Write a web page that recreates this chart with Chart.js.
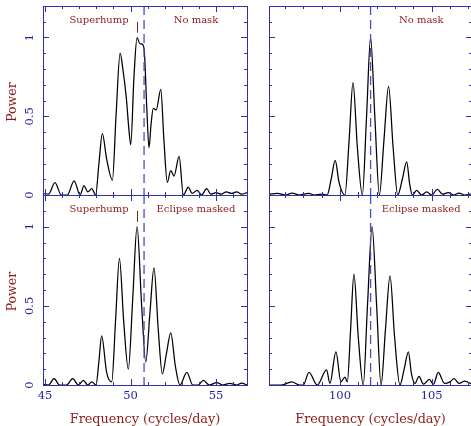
<!DOCTYPE html>
<html>
<head>
<meta charset="utf-8">
<script src="https://cdn.jsdelivr.net/npm/chart.js@4.4.1/dist/chart.umd.min.js"></script>
<style>
  html, body { margin: 0; padding: 0; background: #fff; }
  #wrap { position: relative; width: 471px; height: 426px; overflow: hidden; }
  #wrap canvas { position: absolute; left: 0; top: 0; }
</style>
</head>
<body>
<div id="wrap">
  <canvas id="tl" width="480" height="426"></canvas>
  <canvas id="tr" width="480" height="426"></canvas>
  <canvas id="bl" width="480" height="426"></canvas>
  <canvas id="br" width="480" height="426"></canvas>
</div>
<script>
// Periodogram values, frequency in cycles/day
const fundNoMaskFreq = [44.88,45.2,45.58,45.95,46.3,46.7,47.05,47.28,47.5,47.73,47.96,48.15,48.35,48.6,48.94,49.15,49.39,49.55,49.75,49.9,50.01,50.2,50.38,50.55,50.65,50.79,50.95,51.08,51.2,51.33,51.5,51.77,51.95,52.15,52.35,52.54,52.84,53.09,53.38,53.6,53.9,54.15,54.45,54.7,55.0,55.3,55.6,55.9,56.2,56.5,56.81];
const fundNoMaskPow  = [0.01,0.005,0.078,0.0,0.0,0.09,0.0,0.06,0.02,0.04,0.0,0.2,0.39,0.23,0.095,0.5,0.9,0.8,0.62,0.42,0.32,0.75,1.0,0.96,0.96,0.93,0.55,0.3,0.45,0.55,0.54,0.67,0.35,0.08,0.155,0.12,0.245,0.0,0.05,0.01,0.03,0.0,0.04,0.005,0.015,0.005,0.02,0.01,0.02,0.005,0.015];

const harmNoMaskFreq = [96.13,96.6,97.0,97.4,97.8,98.3,98.6,99.0,99.3,99.52,99.74,99.95,100.27,100.5,100.71,100.95,101.22,101.45,101.67,101.9,102.15,102.4,102.65,102.9,103.15,103.4,103.64,103.8,103.95,104.18,104.45,104.73,105.0,105.31,105.6,105.9,106.2,106.5,106.8,107.2];
const harmNoMaskPow  = [0.005,0.01,0.0,0.012,0.0,0.01,0.0,0.005,0.0,0.1,0.22,0.08,0.0,0.35,0.714,0.3,0.0,0.5,1.0,0.5,0.0,0.35,0.69,0.3,0.0,0.1,0.21,0.07,0.0,0.03,0.0,0.02,0.0,0.035,0.005,0.015,0.0,0.012,0.0,0.008];

const fundMaskedFreq = [44.88,45.2,45.53,45.85,46.25,46.62,46.95,47.24,47.5,47.73,47.98,48.15,48.31,48.6,48.9,49.12,49.35,49.6,49.87,50.13,50.38,50.65,50.89,51.13,51.37,51.62,51.86,52.1,52.35,52.62,52.89,53.29,53.64,53.95,54.26,54.6,55.04,55.4,55.8,56.2,56.5,56.81];
const fundMaskedPow  = [0.005,0.0,0.04,0.0,0.0,0.04,0.0,0.03,0.0,0.02,0.0,0.15,0.31,0.08,0.02,0.4,0.8,0.4,0.1,0.55,1.0,0.5,0.145,0.45,0.74,0.35,0.07,0.2,0.33,0.12,0.0,0.08,0.0,0.0,0.03,0.0,0.015,0.0,0.01,0.0,0.012,0.0];

const harmMaskedFreq = [96.13,96.8,97.37,97.8,98.0,98.31,98.76,99.27,99.45,99.78,100.05,100.27,100.4,100.58,100.76,101.0,101.27,101.5,101.75,102.0,102.24,102.48,102.73,102.98,103.27,103.5,103.73,103.9,104.09,104.31,104.55,104.87,105.1,105.36,105.7,106.0,106.22,106.5,106.8,107.2];
const harmMaskedPow  = [0.0,0.0,0.02,0.0,0.0,0.08,0.0,0.095,0.01,0.21,0.02,0.05,0.02,0.35,0.7,0.3,0.0,0.5,1.0,0.5,0.0,0.35,0.69,0.3,0.0,0.1,0.21,0.07,0.01,0.055,0.005,0.035,0.005,0.08,0.01,0.02,0.04,0.01,0.025,0.005];

const orbitalFreq = 50.79;       // dashed line, left column
const orbitalHarm = 101.67;      // dashed line, right column
const superhumpFreq = 50.36;

const xTicksFund = ['45', '50', '55'];
const xTicksHarm = ['100', '105'];
const yTicks = ['0', '0.5', '1'];

const FRAME = '#3030a8', DASH = '#4a4ad2', NUM = '#1e1ea2', RED = '#8e1a1a';
const SERIF = '"DejaVu Serif", "Liberation Serif", serif';

function drawTicks(ctx, a, x, y) {
  ctx.strokeStyle = FRAME;
  ctx.lineWidth = 1;
  ctx.beginPath();
  for (let v = Math.ceil(x.min); v <= x.max; v++) {
    const px = Math.round(x.getPixelForValue(v)) + 0.5;
    const len = v % 5 === 0 ? 6 : 3;
    ctx.moveTo(px, a.bottom); ctx.lineTo(px, a.bottom - len);
    ctx.moveTo(px, a.top); ctx.lineTo(px, a.top + len);
  }
  for (let i = 0; i <= 12; i++) {
    const py = Math.round(y.getPixelForValue(i / 10)) + 0.5;
    const len = i % 5 === 0 ? 6 : 3;
    ctx.moveTo(a.left, py); ctx.lineTo(a.left + len, py);
    ctx.moveTo(a.right, py); ctx.lineTo(a.right - len, py);
  }
  ctx.stroke();
}

const panelDecor = {
  id: 'panelDecor',
  afterDraw(chart, args, o) {
    const { ctx, chartArea: a, scales: { x, y } } = chart;
    ctx.save();
    // orbital frequency
    ctx.strokeStyle = DASH;
    ctx.lineWidth = 1.3;
    ctx.setLineDash([9, 5]);
    const xd = x.getPixelForValue(o.dash);
    ctx.beginPath(); ctx.moveTo(xd, a.top); ctx.lineTo(xd, a.bottom); ctx.stroke();
    ctx.setLineDash([]);

    // superhump marker
    if (o.superhump) {
      const xs = Math.round(x.getPixelForValue(superhumpFreq)) + 0.5;
      ctx.strokeStyle = RED; ctx.lineWidth = 1;
      ctx.beginPath();
      ctx.moveTo(xs, y.getPixelForValue(1.10));
      ctx.lineTo(xs, y.getPixelForValue(1.03));
      ctx.stroke();
    }

    // frame
    ctx.strokeStyle = FRAME; ctx.lineWidth = 1;
    ctx.strokeRect(a.left + 0.5, a.top + 0.5, a.width, a.height);
    drawTicks(ctx, a, x, y);

    // panel captions
    ctx.fillStyle = RED;
    ctx.font = '10px ' + SERIF;
    ctx.textAlign = 'center'; ctx.textBaseline = 'middle';
    o.captions.forEach(c => ctx.fillText(c[0], a.left + c[1] * a.width, a.top + 14));

    // y numbers and title
    if (o.yLabels) {
      ctx.fillStyle = NUM;
      ctx.font = '11.5px ' + SERIF;
      yTicks.forEach(t => {
        ctx.save();
        ctx.translate(a.left - 13, y.getPixelForValue(parseFloat(t)));
        ctx.rotate(-Math.PI / 2);
        ctx.fillText(t, 0, 0);
        ctx.restore();
      });
      ctx.save();
      ctx.fillStyle = RED;
      ctx.font = '12.5px ' + SERIF;
      ctx.translate(13, y.getPixelForValue(0.59));
      ctx.rotate(-Math.PI / 2);
      ctx.fillText('Power', 0, 0);
      ctx.restore();
    }
    // x numbers and title
    if (o.xLabels) {
      ctx.fillStyle = NUM;
      ctx.font = '11.5px ' + SERIF;
      o.xLabels.forEach(t => ctx.fillText(t, x.getPixelForValue(parseFloat(t)), a.bottom + 11));
      ctx.fillStyle = RED;
      ctx.font = '12.8px ' + SERIF;
      ctx.fillText('Frequency (cycles/day)', (a.left + a.right) / 2, a.bottom + 35);
    }
    ctx.restore();
  }
};

function makePanel(id, freq, pow, xmin, xmax, pad, decor) {
  new Chart(document.getElementById(id), {
    type: 'line',
    data: {
      datasets: [{
        data: freq.map((f, i) => ({ x: f, y: pow[i] })),
        borderColor: '#000',
        borderWidth: 1.25,
        pointRadius: 0,
        cubicInterpolationMode: 'monotone',
        fill: false
      }]
    },
    options: {
      responsive: false,
      animation: false,
      events: [],
      layout: { padding: pad },
      plugins: { legend: { display: false }, tooltip: { enabled: false }, panelDecor: decor },
      scales: {
        x: { type: 'linear', min: xmin, max: xmax, display: false },
        y: { type: 'linear', min: 0, max: 1.2, display: false }
      }
    },
    plugins: [panelDecor]
  });
}

// canvas is 480 wide, the right column's frame runs past the page edge
makePanel('tl', fundNoMaskFreq, fundNoMaskPow, 44.88, 56.81,
  { left: 43, top: 6, right: 480 - 247, bottom: 426 - 195 },
  { dash: orbitalFreq, superhump: true, yLabels: true, captions: [['Superhump', 0.275], ['No mask', 0.75]] });
makePanel('tr', harmNoMaskFreq, harmNoMaskPow, 96.13, 107.2,
  { left: 269, top: 6, right: 480 - 472, bottom: 426 - 195 },
  { dash: orbitalHarm, captions: [['No mask', 0.75]] });
makePanel('bl', fundMaskedFreq, fundMaskedPow, 44.88, 56.81,
  { left: 43, top: 195, right: 480 - 247, bottom: 426 - 385 },
  { dash: orbitalFreq, superhump: true, yLabels: true, xLabels: xTicksFund,
    captions: [['Superhump', 0.275], ['Eclipse masked', 0.75]] });
makePanel('br', harmMaskedFreq, harmMaskedPow, 96.13, 107.2,
  { left: 269, top: 195, right: 480 - 472, bottom: 426 - 385 },
  { dash: orbitalHarm, xLabels: xTicksHarm, captions: [['Eclipse masked', 0.75]] });
</script>
</body>
</html>
